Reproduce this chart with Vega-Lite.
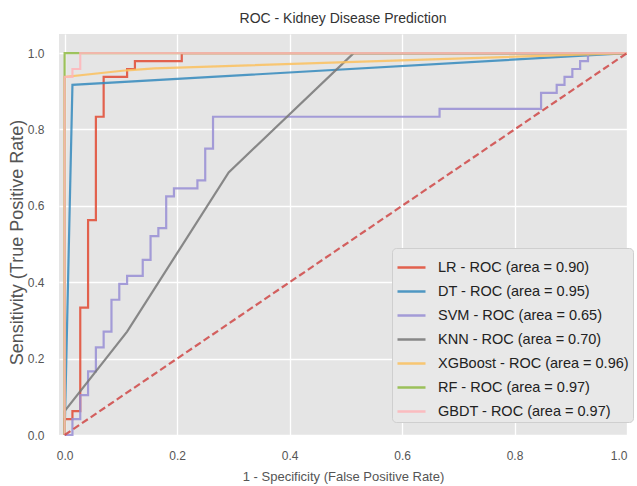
{
  "$schema": "https://vega.github.io/schema/vega-lite/v6.json",
  "autosize": {"type": "none"},
  "padding": {"left": 59, "top": 34, "right": 10, "bottom": 51},
  "width": 568,
  "height": 401,
  "background": "white",
  "title": {"text": "ROC - Kidney Disease Prediction", "fontSize": 14, "font": "Liberation Sans", "fontWeight": "normal", "color": "#333333", "anchor": "middle", "offset": 8},
  "config": {
    "view": {"fill": "#E5E5E5", "stroke": null},
    "font": "Liberation Sans",
    "axis": {"domain": false, "ticks": false, "tickSize": 0, "grid": true, "gridColor": "#FFFFFF", "gridWidth": 1.3, "labelColor": "#555555", "labelFontSize": 12, "labelFont": "Liberation Sans", "titleFont": "Liberation Sans", "titleFontSize": 13, "titleFontWeight": "normal", "titleColor": "#555555"}
  },
  "datasets": {
    "LR": [
      {"model": "LR - ROC (area = 0.90)", "i": 0, "fpr": 0, "tpr": 0},
      {"model": "LR - ROC (area = 0.90)", "i": 1, "fpr": 0, "tpr": 0.0417},
      {"model": "LR - ROC (area = 0.90)", "i": 2, "fpr": 0.0139, "tpr": 0.0417},
      {"model": "LR - ROC (area = 0.90)", "i": 3, "fpr": 0.0139, "tpr": 0.0625},
      {"model": "LR - ROC (area = 0.90)", "i": 4, "fpr": 0.0278, "tpr": 0.0625},
      {"model": "LR - ROC (area = 0.90)", "i": 5, "fpr": 0.0278, "tpr": 0.3333},
      {"model": "LR - ROC (area = 0.90)", "i": 6, "fpr": 0.0417, "tpr": 0.3333},
      {"model": "LR - ROC (area = 0.90)", "i": 7, "fpr": 0.0417, "tpr": 0.5625},
      {"model": "LR - ROC (area = 0.90)", "i": 8, "fpr": 0.0556, "tpr": 0.5625},
      {"model": "LR - ROC (area = 0.90)", "i": 9, "fpr": 0.0556, "tpr": 0.8333},
      {"model": "LR - ROC (area = 0.90)", "i": 10, "fpr": 0.0694, "tpr": 0.8333},
      {"model": "LR - ROC (area = 0.90)", "i": 11, "fpr": 0.0694, "tpr": 0.9375},
      {"model": "LR - ROC (area = 0.90)", "i": 12, "fpr": 0.1111, "tpr": 0.9375},
      {"model": "LR - ROC (area = 0.90)", "i": 13, "fpr": 0.1111, "tpr": 0.9583},
      {"model": "LR - ROC (area = 0.90)", "i": 14, "fpr": 0.125, "tpr": 0.9583},
      {"model": "LR - ROC (area = 0.90)", "i": 15, "fpr": 0.125, "tpr": 0.9792},
      {"model": "LR - ROC (area = 0.90)", "i": 16, "fpr": 0.2083, "tpr": 0.9792},
      {"model": "LR - ROC (area = 0.90)", "i": 17, "fpr": 0.2083, "tpr": 1},
      {"model": "LR - ROC (area = 0.90)", "i": 18, "fpr": 1, "tpr": 1}
    ],
    "DT": [
      {"model": "DT - ROC (area = 0.95)", "i": 0, "fpr": 0, "tpr": 0},
      {"model": "DT - ROC (area = 0.95)", "i": 1, "fpr": 0.0139, "tpr": 0.9167},
      {"model": "DT - ROC (area = 0.95)", "i": 2, "fpr": 1, "tpr": 1}
    ],
    "SVM": [
      {"model": "SVM - ROC (area = 0.65)", "i": 0, "fpr": 0, "tpr": 0},
      {"model": "SVM - ROC (area = 0.65)", "i": 1, "fpr": 0.0139, "tpr": 0},
      {"model": "SVM - ROC (area = 0.65)", "i": 2, "fpr": 0.0139, "tpr": 0.0417},
      {"model": "SVM - ROC (area = 0.65)", "i": 3, "fpr": 0.0278, "tpr": 0.0417},
      {"model": "SVM - ROC (area = 0.65)", "i": 4, "fpr": 0.0278, "tpr": 0.1042},
      {"model": "SVM - ROC (area = 0.65)", "i": 5, "fpr": 0.0417, "tpr": 0.1042},
      {"model": "SVM - ROC (area = 0.65)", "i": 6, "fpr": 0.0417, "tpr": 0.1667},
      {"model": "SVM - ROC (area = 0.65)", "i": 7, "fpr": 0.0556, "tpr": 0.1667},
      {"model": "SVM - ROC (area = 0.65)", "i": 8, "fpr": 0.0556, "tpr": 0.2292},
      {"model": "SVM - ROC (area = 0.65)", "i": 9, "fpr": 0.0694, "tpr": 0.2292},
      {"model": "SVM - ROC (area = 0.65)", "i": 10, "fpr": 0.0694, "tpr": 0.2708},
      {"model": "SVM - ROC (area = 0.65)", "i": 11, "fpr": 0.0833, "tpr": 0.2708},
      {"model": "SVM - ROC (area = 0.65)", "i": 12, "fpr": 0.0833, "tpr": 0.3542},
      {"model": "SVM - ROC (area = 0.65)", "i": 13, "fpr": 0.0972, "tpr": 0.3542},
      {"model": "SVM - ROC (area = 0.65)", "i": 14, "fpr": 0.0972, "tpr": 0.3958},
      {"model": "SVM - ROC (area = 0.65)", "i": 15, "fpr": 0.1111, "tpr": 0.3958},
      {"model": "SVM - ROC (area = 0.65)", "i": 16, "fpr": 0.1111, "tpr": 0.4167},
      {"model": "SVM - ROC (area = 0.65)", "i": 17, "fpr": 0.1389, "tpr": 0.4167},
      {"model": "SVM - ROC (area = 0.65)", "i": 18, "fpr": 0.1389, "tpr": 0.4583},
      {"model": "SVM - ROC (area = 0.65)", "i": 19, "fpr": 0.1528, "tpr": 0.4583},
      {"model": "SVM - ROC (area = 0.65)", "i": 20, "fpr": 0.1528, "tpr": 0.5208},
      {"model": "SVM - ROC (area = 0.65)", "i": 21, "fpr": 0.1667, "tpr": 0.5208},
      {"model": "SVM - ROC (area = 0.65)", "i": 22, "fpr": 0.1667, "tpr": 0.5417},
      {"model": "SVM - ROC (area = 0.65)", "i": 23, "fpr": 0.1806, "tpr": 0.5417},
      {"model": "SVM - ROC (area = 0.65)", "i": 24, "fpr": 0.1806, "tpr": 0.625},
      {"model": "SVM - ROC (area = 0.65)", "i": 25, "fpr": 0.1944, "tpr": 0.625},
      {"model": "SVM - ROC (area = 0.65)", "i": 26, "fpr": 0.1944, "tpr": 0.6458},
      {"model": "SVM - ROC (area = 0.65)", "i": 27, "fpr": 0.2361, "tpr": 0.6458},
      {"model": "SVM - ROC (area = 0.65)", "i": 28, "fpr": 0.2361, "tpr": 0.6667},
      {"model": "SVM - ROC (area = 0.65)", "i": 29, "fpr": 0.25, "tpr": 0.6667},
      {"model": "SVM - ROC (area = 0.65)", "i": 30, "fpr": 0.25, "tpr": 0.75},
      {"model": "SVM - ROC (area = 0.65)", "i": 31, "fpr": 0.2639, "tpr": 0.75},
      {"model": "SVM - ROC (area = 0.65)", "i": 32, "fpr": 0.2639, "tpr": 0.8333},
      {"model": "SVM - ROC (area = 0.65)", "i": 33, "fpr": 0.6667, "tpr": 0.8333},
      {"model": "SVM - ROC (area = 0.65)", "i": 34, "fpr": 0.6667, "tpr": 0.8542},
      {"model": "SVM - ROC (area = 0.65)", "i": 35, "fpr": 0.8472, "tpr": 0.8542},
      {"model": "SVM - ROC (area = 0.65)", "i": 36, "fpr": 0.8472, "tpr": 0.8958},
      {"model": "SVM - ROC (area = 0.65)", "i": 37, "fpr": 0.875, "tpr": 0.8958},
      {"model": "SVM - ROC (area = 0.65)", "i": 38, "fpr": 0.875, "tpr": 0.9167},
      {"model": "SVM - ROC (area = 0.65)", "i": 39, "fpr": 0.8889, "tpr": 0.9167},
      {"model": "SVM - ROC (area = 0.65)", "i": 40, "fpr": 0.8889, "tpr": 0.9375},
      {"model": "SVM - ROC (area = 0.65)", "i": 41, "fpr": 0.9028, "tpr": 0.9375},
      {"model": "SVM - ROC (area = 0.65)", "i": 42, "fpr": 0.9028, "tpr": 0.9583},
      {"model": "SVM - ROC (area = 0.65)", "i": 43, "fpr": 0.9167, "tpr": 0.9583},
      {"model": "SVM - ROC (area = 0.65)", "i": 44, "fpr": 0.9167, "tpr": 0.9792},
      {"model": "SVM - ROC (area = 0.65)", "i": 45, "fpr": 0.9306, "tpr": 0.9792},
      {"model": "SVM - ROC (area = 0.65)", "i": 46, "fpr": 0.9306, "tpr": 1},
      {"model": "SVM - ROC (area = 0.65)", "i": 47, "fpr": 1, "tpr": 1}
    ],
    "KNN": [
      {"model": "KNN - ROC (area = 0.70)", "i": 0, "fpr": 0, "tpr": 0},
      {"model": "KNN - ROC (area = 0.70)", "i": 1, "fpr": 0, "tpr": 0.0625},
      {"model": "KNN - ROC (area = 0.70)", "i": 2, "fpr": 0.1111, "tpr": 0.2708},
      {"model": "KNN - ROC (area = 0.70)", "i": 3, "fpr": 0.2917, "tpr": 0.6875},
      {"model": "KNN - ROC (area = 0.70)", "i": 4, "fpr": 0.5139, "tpr": 1},
      {"model": "KNN - ROC (area = 0.70)", "i": 5, "fpr": 1, "tpr": 1}
    ],
    "XGB": [
      {"model": "XGBoost - ROC (area = 0.96)", "i": 0, "fpr": 0, "tpr": 0},
      {"model": "XGBoost - ROC (area = 0.96)", "i": 1, "fpr": 0, "tpr": 0.9375},
      {"model": "XGBoost - ROC (area = 0.96)", "i": 2, "fpr": 0.111, "tpr": 0.955},
      {"model": "XGBoost - ROC (area = 0.96)", "i": 3, "fpr": 0.16, "tpr": 0.96},
      {"model": "XGBoost - ROC (area = 0.96)", "i": 4, "fpr": 1, "tpr": 1}
    ],
    "RF": [
      {"model": "RF - ROC (area = 0.97)", "i": 0, "fpr": 0, "tpr": 0},
      {"model": "RF - ROC (area = 0.97)", "i": 1, "fpr": 0, "tpr": 1},
      {"model": "RF - ROC (area = 0.97)", "i": 2, "fpr": 1, "tpr": 1}
    ],
    "GBDT": [
      {"model": "GBDT - ROC (area = 0.97)", "i": 0, "fpr": 0, "tpr": 0},
      {"model": "GBDT - ROC (area = 0.97)", "i": 1, "fpr": 0, "tpr": 0.9375},
      {"model": "GBDT - ROC (area = 0.97)", "i": 2, "fpr": 0.0139, "tpr": 0.9375},
      {"model": "GBDT - ROC (area = 0.97)", "i": 3, "fpr": 0.0139, "tpr": 0.9583},
      {"model": "GBDT - ROC (area = 0.97)", "i": 4, "fpr": 0.0278, "tpr": 0.9583},
      {"model": "GBDT - ROC (area = 0.97)", "i": 5, "fpr": 0.0278, "tpr": 1},
      {"model": "GBDT - ROC (area = 0.97)", "i": 6, "fpr": 1, "tpr": 1}
    ],
    "diag": [
      {"i": 0, "fpr": 0, "tpr": 0},
      {"i": 1, "fpr": 1, "tpr": 1}
    ]
  },
  "encoding": {
    "x": {"field": "fpr", "type": "quantitative", "scale": {"domain": [-0.01, 1.0], "nice": false, "zero": false}, "axis": {"title": "1 - Specificity (False Positive Rate)", "values": [0, 0.2, 0.4, 0.6, 0.8, 1.0], "format": ".1f", "labelPadding": 15, "titlePadding": 9}},
    "y": {"field": "tpr", "type": "quantitative", "scale": {"domain": [0, 1.05], "nice": false, "zero": false}, "axis": {"title": "Sensitivity (True Positive Rate)", "values": [0, 0.2, 0.4, 0.6, 0.8, 1.0], "format": ".1f", "labelPadding": 15, "titlePadding": 1, "titleFontSize": 18, "titleY": 208}},
    "order": {"field": "i", "type": "quantitative"},
    "color": {
      "field": "model", "type": "nominal",
      "scale": {
        "domain": ["LR - ROC (area = 0.90)", "DT - ROC (area = 0.95)", "SVM - ROC (area = 0.65)", "KNN - ROC (area = 0.70)", "XGBoost - ROC (area = 0.96)", "RF - ROC (area = 0.97)", "GBDT - ROC (area = 0.97)"],
        "range": ["#E24A33", "#348ABD", "#988ED5", "#777777", "#FBC15E", "#8EBA42", "#FFB5B8"]
      },
      "legend": {"orient": "none", "legendX": 333, "legendY": 214, "title": null, "symbolType": "stroke", "symbolSize": 784, "symbolStrokeWidth": 2.5, "labelFontSize": 14.5, "labelLimit": 400, "labelColor": "#222222", "labelFont": "Liberation Sans", "fillColor": "#E8E8E8", "strokeColor": "#CFCFCF", "padding": 4, "cornerRadius": 4, "rowPadding": 2, "labelOffset": 11}
    }
  },
  "layer": [
    {"data": {"name": "LR"}, "mark": {"type": "line", "strokeWidth": 2.2, "opacity": 0.85}},
    {"data": {"name": "DT"}, "mark": {"type": "line", "strokeWidth": 2.2, "opacity": 0.85}},
    {"data": {"name": "SVM"}, "mark": {"type": "line", "strokeWidth": 2.2, "opacity": 0.85}},
    {"data": {"name": "KNN"}, "mark": {"type": "line", "strokeWidth": 2.2, "opacity": 0.85}},
    {"data": {"name": "XGB"}, "mark": {"type": "line", "strokeWidth": 2.2, "opacity": 0.85}},
    {"data": {"name": "RF"}, "mark": {"type": "line", "strokeWidth": 2.2, "opacity": 0.85}},
    {"data": {"name": "GBDT"}, "mark": {"type": "line", "strokeWidth": 2.2, "opacity": 0.85}},
    {"data": {"name": "diag"}, "mark": {"type": "line", "strokeWidth": 2.2, "strokeDash": [7, 3.5], "color": "#D0504F", "opacity": 0.9}, "encoding": {"color": {"value": "#D0504F"}}}
  ]
}
